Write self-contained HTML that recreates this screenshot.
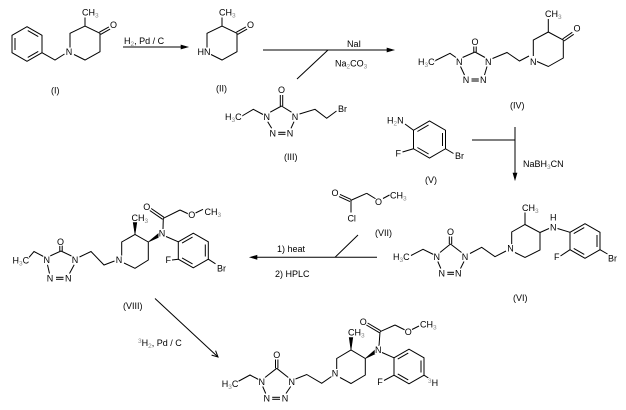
<!DOCTYPE html>
<html><head><meta charset="utf-8"><style>
html,body{margin:0;padding:0;background:#fff;}
svg{display:block}
</style></head><body>
<svg width="626" height="410" viewBox="0 0 626 410" xmlns="http://www.w3.org/2000/svg">
<style>
line,polyline,polygon{stroke:#000;stroke-width:1;fill:none}
polygon.f{fill:#000;stroke-width:0.6}
text{font-family:"Liberation Sans",Arial,sans-serif;font-size:9px;fill:#000}
.m{text-anchor:middle}
.a{stroke:#fff;stroke-width:2px;paint-order:stroke}
.s{font-size:6.5px;fill:#888}
</style>
<rect width="626" height="410" fill="#fff"/>

<!-- ===== Compound I ===== -->
<polygon points="27,26.7 42,35.3 42,52.7 27,61.3 12,52.7 12,35.3"/>
<line x1="15" y1="38" x2="15" y2="50"/>
<line x1="27.75" y1="30.6" x2="38.25" y2="36.6"/>
<line x1="38.25" y1="51.4" x2="27.75" y2="57.4"/>
<polyline points="42,52.7 55,60 64.5,54"/>
<polyline points="70,47.5 70,33.3 85,26 100,33.3 100,51.7 85,60 74,54.5"/>
<line x1="85" y1="26" x2="85" y2="17.5"/>
<line x1="99.4" y1="32.2" x2="108.9" y2="26.9"/>
<line x1="100.6" y1="34.4" x2="110.1" y2="29.1"/>
<text class="m a" x="69" y="55.2">N</text>
<text x="82" y="15.5">CH<tspan class="s" dy="2">3</tspan></text>
<text class="m a" x="113.5" y="28.2">O</text>
<text x="51" y="93.5">(I)</text>

<!-- Arrow 1 -->
<line x1="123" y1="47" x2="183" y2="47"/>
<polygon class="f" points="188,47 181,45 181,49"/>
<text x="124" y="44">H<tspan class="s" dy="2">2</tspan><tspan dy="-2">, Pd / C</tspan></text>

<!-- ===== Compound II ===== -->
<polyline points="207,47.5 207,33.3 222,26 237,33.3 237,51.7 222,60 211,54.5"/>
<line x1="222" y1="26" x2="222" y2="17.5"/>
<line x1="236.4" y1="32.2" x2="245.9" y2="26.9"/>
<line x1="237.6" y1="34.4" x2="247.1" y2="29.1"/>
<text class="a" x="197.5" y="55.2">HN</text>
<text x="219" y="15.5">CH<tspan class="s" dy="2">3</tspan></text>
<text class="m a" x="250.5" y="28.2">O</text>
<text x="216" y="91.5">(II)</text>

<!-- Arrow 2 -->
<line x1="263" y1="50" x2="389" y2="50"/>
<polygon class="f" points="394,50 387,48 387,52"/>
<line x1="328" y1="50" x2="297" y2="79"/>
<text x="347" y="47">NaI</text>
<text x="335" y="66.5">Na<tspan class="s" dy="2">2</tspan><tspan dy="-2">CO</tspan><tspan class="s" dy="2">3</tspan></text>

<!-- ===== Compound III ===== -->
<line x1="270.2" y1="112.2" x2="281.5" y2="106"/>
<line x1="281.5" y1="106" x2="291.5" y2="112.2"/>
<line x1="280.3" y1="95" x2="280.3" y2="106"/>
<line x1="282.7" y1="95" x2="282.7" y2="106"/>
<line x1="267.7" y1="121.7" x2="271.7" y2="128.3"/>
<line x1="294" y1="121.7" x2="291" y2="128.3"/>
<line x1="278.2" y1="132.3" x2="285.5" y2="132.3"/>
<line x1="278.2" y1="134.3" x2="285.5" y2="134.3"/>
<polyline points="242,116 253.3,109.3 263,114.5"/>
<polyline points="299.5,114 315,109.3 326.7,118.3 336.5,111"/>
<text class="m a" x="281.5" y="93.2">O</text>
<text class="m a" x="266.7" y="119.9">N</text>
<text class="m a" x="295" y="119.9">N</text>
<text class="m a" x="272.7" y="136.5">N</text>
<text class="m a" x="290" y="136.5">N</text>
<text class="a" x="225" y="120">H<tspan class="s" dy="2">3</tspan><tspan dy="-2">C</tspan></text>
<text class="a" x="338" y="112">Br</text>
<text x="284" y="160">(III)</text>

<!-- ===== Compound IV ===== -->
<line x1="462.5" y1="57.5" x2="475" y2="52"/>
<line x1="475" y1="52" x2="485" y2="57.5"/>
<line x1="473.8" y1="46.5" x2="473.8" y2="52"/>
<line x1="476.2" y1="46.5" x2="476.2" y2="52"/>
<line x1="460.5" y1="66.5" x2="464.5" y2="75"/>
<line x1="487" y1="66.5" x2="484.5" y2="75"/>
<line x1="471.5" y1="79" x2="478.8" y2="79"/>
<line x1="471.5" y1="81" x2="478.8" y2="81"/>
<polyline points="434.5,61 450,53.3 456,57.5"/>
<polyline points="492.5,58.5 507,52.5 519.5,61 529,56"/>
<polyline points="533.3,56 533.3,40 548.3,32 563.3,40 563.3,58 548.3,66.5 537,61.5"/>
<line x1="548.3" y1="32" x2="548.3" y2="19"/>
<line x1="562.6" y1="39" x2="572.3" y2="32.3"/>
<line x1="564" y1="41" x2="573.7" y2="34.3"/>
<text class="m a" x="475" y="45">O</text>
<text class="m a" x="459.3" y="64.9">N</text>
<text class="m a" x="488.3" y="64.9">N</text>
<text class="m a" x="466" y="83.2">N</text>
<text class="m a" x="483.3" y="83.2">N</text>
<text class="m a" x="533.3" y="64.9">N</text>
<text class="a" x="418" y="65">H<tspan class="s" dy="2">3</tspan><tspan dy="-2">C</tspan></text>
<text x="545" y="17">CH<tspan class="s" dy="2">3</tspan></text>
<text class="m a" x="577" y="31.5">O</text>
<text x="510" y="108.5">(IV)</text>

<!-- ===== Compound V ===== -->
<line x1="405" y1="124" x2="413.5" y2="130.25"/>
<polygon points="413.5,130.25 429.5,121 445.5,130.25 445.5,148.75 429.5,158 413.5,148.75"/>
<line x1="417.4" y1="131.5" x2="428.6" y2="125"/>
<line x1="442.5" y1="133" x2="442.5" y2="146"/>
<line x1="428.6" y1="154" x2="417.4" y2="147.5"/>
<line x1="402.5" y1="152" x2="413.5" y2="148.75"/>
<line x1="445.5" y1="148.75" x2="453.5" y2="153.5"/>
<text class="a" x="387" y="123.5">H<tspan class="s" dy="2">2</tspan><tspan dy="-2">N</tspan></text>
<text class="m a" x="398.3" y="156.5">F</text>
<text class="a" x="455" y="159">Br</text>
<text x="425" y="183">(V)</text>

<!-- Arrow 3 -->
<line x1="472" y1="140" x2="515" y2="140"/>
<line x1="515" y1="127" x2="515" y2="174"/>
<polygon class="f" points="515,180 513,173 517,173"/>
<text x="523" y="167">NaBH<tspan class="s" dy="2">3</tspan><tspan dy="-2">CN</tspan></text>

<!-- ===== Reagent VII ===== -->
<line x1="351" y1="199.4" x2="340" y2="194.4"/>
<line x1="350" y1="201.6" x2="339" y2="196.6"/>
<line x1="351" y1="200.5" x2="351" y2="212.5"/>
<line x1="350.5" y1="200.5" x2="366.7" y2="193.3"/>
<line x1="366.7" y1="193.3" x2="376" y2="199"/>
<line x1="383" y1="198.5" x2="389.5" y2="195"/>
<text class="m a" x="335" y="196">O</text>
<text class="m a" x="351.7" y="221.5">Cl</text>
<text class="m a" x="378.5" y="205">O</text>
<text x="390" y="198.5">CH<tspan class="s" dy="2">3</tspan></text>
<text x="375" y="236">(VII)</text>

<!-- Arrow 4 -->
<line x1="256" y1="257.3" x2="377" y2="257.3"/>
<polygon class="f" points="250,257.3 257,255.3 257,259.3"/>
<line x1="335" y1="257.3" x2="358" y2="235"/>
<text x="277" y="252">1) heat</text>
<text x="275" y="277">2) HPLC</text>

<!-- ===== Compound VI ===== -->
<line x1="440" y1="252.5" x2="450.5" y2="244"/>
<line x1="450.5" y1="244" x2="461.5" y2="252.5"/>
<line x1="449.3" y1="236.5" x2="449.3" y2="244"/>
<line x1="451.7" y1="236.5" x2="451.7" y2="244"/>
<line x1="437.8" y1="261.5" x2="440.8" y2="268.5"/>
<line x1="464" y1="261.5" x2="460.5" y2="268.5"/>
<line x1="447.3" y1="272.3" x2="454" y2="272.3"/>
<line x1="447.3" y1="274.3" x2="454" y2="274.3"/>
<polyline points="411,255.5 423,249.3 433.5,254.5"/>
<polyline points="470,253.5 481.7,247.3 495,256.7 506,251"/>
<polyline points="511.7,244.5 511.7,232 525,224.5 540,232.5 540,250 525,257.5 515,252.5"/>
<line x1="525" y1="224.5" x2="525" y2="212.5"/>
<line x1="540" y1="232.5" x2="549" y2="228.5"/>
<line x1="557.5" y1="228.5" x2="570" y2="232.3"/>
<polygon points="570,232.3 585,223.7 600,232.3 600,249.7 585,258.3 570,249.7"/>
<line x1="573.75" y1="233.6" x2="584.25" y2="227.6"/>
<line x1="597" y1="235" x2="597" y2="247"/>
<line x1="584.25" y1="254.4" x2="573.75" y2="248.4"/>
<line x1="560.5" y1="256" x2="570" y2="249.7"/>
<line x1="600" y1="249.7" x2="607.5" y2="254"/>
<text class="m a" x="450.5" y="235">O</text>
<text class="m a" x="436.7" y="259.9">N</text>
<text class="m a" x="465" y="259.9">N</text>
<text class="m a" x="441.7" y="276.5">N</text>
<text class="m a" x="458.3" y="276.5">N</text>
<text class="a" x="393" y="260">H<tspan class="s" dy="2">3</tspan><tspan dy="-2">C</tspan></text>
<text class="m a" x="510.5" y="251.5">N</text>
<text x="522" y="211">CH<tspan class="s" dy="2">3</tspan></text>
<text class="m a" x="553.3" y="220.7">H</text>
<text class="m a" x="553.3" y="230.7">N</text>
<text class="m a" x="556.7" y="260">F</text>
<text class="a" x="608" y="261.5">Br</text>
<text x="513" y="301">(VI)</text>

<!-- ===== Compound VIII ===== -->
<line x1="50" y1="256" x2="61" y2="251"/>
<line x1="61" y1="251" x2="71.5" y2="256"/>
<line x1="59.8" y1="245.5" x2="59.8" y2="251"/>
<line x1="62.2" y1="245.5" x2="62.2" y2="251"/>
<line x1="47.5" y1="264.8" x2="49.5" y2="273.5"/>
<line x1="74.2" y1="264.8" x2="69.5" y2="273.5"/>
<line x1="56" y1="277.3" x2="63.5" y2="277.3"/>
<line x1="56" y1="279.3" x2="63.5" y2="279.3"/>
<polyline points="28.5,258 34,251.5 43.5,256.5"/>
<polyline points="79.5,257 91,251.5 104,265 114.5,261"/>
<polyline points="121.7,256 121.7,242 135,234.5 148.3,242 148.3,260 135,268.3 124,263"/>
<polygon class="f" points="135,234.5 133.2,222.5 136.8,222.5"/>
<polygon class="f" points="148.3,242 158.55,233.47 160.45,236.53"/>
<line x1="163" y1="229" x2="163.3" y2="218.3"/>
<line x1="164" y1="217.3" x2="151.2" y2="208.5"/>
<line x1="162.6" y1="219.3" x2="149.8" y2="210.5"/>
<line x1="163.3" y1="218.3" x2="180" y2="210"/>
<line x1="180" y1="210" x2="188.5" y2="214"/>
<line x1="195.5" y1="213" x2="203" y2="209.3"/>
<line x1="166" y1="236.5" x2="178.3" y2="241.8"/>
<polygon points="178.3,241.8 193.3,233.2 208.3,241.8 208.3,259.2 193.3,267.8 178.3,259.2"/>
<line x1="182.05" y1="243.1" x2="192.55" y2="237.1"/>
<line x1="205.3" y1="244.5" x2="205.3" y2="256.5"/>
<line x1="192.55" y1="263.9" x2="182.05" y2="257.9"/>
<line x1="172" y1="260" x2="178.3" y2="259.2"/>
<line x1="208.3" y1="259.2" x2="215.5" y2="263.8"/>
<text class="m a" x="60.5" y="244.9">O</text>
<text class="m a" x="46.7" y="263.2">N</text>
<text class="m a" x="75" y="263.2">N</text>
<text class="m a" x="50" y="281.5">N</text>
<text class="m a" x="68.3" y="281.5">N</text>
<text class="a" x="12.5" y="263.5">H<tspan class="s" dy="2">3</tspan><tspan dy="-2">C</tspan></text>
<text class="m a" x="119" y="263.2">N</text>
<text x="131.5" y="221">CH<tspan class="s" dy="2">3</tspan></text>
<text class="m a" x="162" y="236.5">N</text>
<text class="m a" x="146.7" y="209.9">O</text>
<text class="m a" x="191.7" y="218.2">O</text>
<text x="204.5" y="215">CH<tspan class="s" dy="2">3</tspan></text>
<text class="m a" x="168.3" y="263.2">F</text>
<text class="a" x="217" y="271.5">Br</text>
<text x="123" y="309">(VIII)</text>

<!-- Arrow 5 -->
<line x1="155" y1="298.5" x2="218" y2="357"/>
<polyline points="211.6,355.1 218,357 215.6,350.7"/>
<text x="138" y="346"><tspan class="s" dy="-3">3</tspan><tspan dy="3">H</tspan><tspan class="s" dy="2">2</tspan><tspan dy="-2">, Pd / C</tspan></text>

<!-- ===== Compound IX ===== -->
<line x1="265" y1="377.5" x2="276.7" y2="368.3"/>
<line x1="276.7" y1="368.3" x2="288.3" y2="377.5"/>
<line x1="275.5" y1="359.5" x2="275.5" y2="368.3"/>
<line x1="277.9" y1="359.5" x2="277.9" y2="368.3"/>
<line x1="262.7" y1="386.5" x2="265.7" y2="393.5"/>
<line x1="290.7" y1="386.5" x2="286" y2="393.5"/>
<line x1="272.2" y1="397.3" x2="280" y2="397.3"/>
<line x1="272.2" y1="399.3" x2="280" y2="399.3"/>
<polyline points="238,381.5 250,375 258.5,379.5"/>
<polyline points="295.5,379 306.7,374.5 321.7,383.3 331.5,376.5"/>
<polyline points="336.7,369.5 336.7,358.5 351,350 365.3,358.5 365.3,375 351,383.5 340,377.5"/>
<polygon class="f" points="351,350 349.2,337.5 352.8,337.5"/>
<polygon class="f" points="365.3,358.5 375,350 377,353"/>
<line x1="379" y1="346" x2="380" y2="332"/>
<line x1="380.6" y1="330.7" x2="367.6" y2="323"/>
<line x1="379.4" y1="332.7" x2="366.4" y2="325"/>
<line x1="380" y1="331.7" x2="395" y2="325"/>
<line x1="395" y1="325" x2="405" y2="330"/>
<line x1="412" y1="329.5" x2="419" y2="326"/>
<line x1="382" y1="352.5" x2="394" y2="357.8"/>
<polygon points="394,357.8 409,349.2 424,357.8 424,375.2 409,383.8 394,375.2"/>
<line x1="397.75" y1="359.1" x2="408.25" y2="353.1"/>
<line x1="421" y1="360.5" x2="421" y2="372.5"/>
<line x1="408.25" y1="379.9" x2="397.75" y2="373.9"/>
<line x1="384" y1="380.5" x2="394" y2="375.2"/>
<line x1="424" y1="375.2" x2="430" y2="379"/>
<text class="m a" x="276.7" y="358.2">O</text>
<text class="m a" x="261.7" y="384.9">N</text>
<text class="m a" x="291.7" y="384.9">N</text>
<text class="m a" x="266.7" y="401.5">N</text>
<text class="m a" x="285" y="401.5">N</text>
<text class="a" x="221.7" y="387">H<tspan class="s" dy="2">3</tspan><tspan dy="-2">C</tspan></text>
<text class="m a" x="335" y="376.5">N</text>
<text x="348" y="335.5">CH<tspan class="s" dy="2">3</tspan></text>
<text class="m a" x="378.3" y="353.2">N</text>
<text class="m a" x="363.3" y="324.9">O</text>
<text class="m a" x="408.3" y="334.9">O</text>
<text x="420" y="327.5">CH<tspan class="s" dy="2">3</tspan></text>
<text class="m a" x="380" y="384.9">F</text>
<text class="a" x="428" y="386"><tspan class="s" dy="-3">3</tspan><tspan dy="3">H</tspan></text>
</svg>
</body></html>
